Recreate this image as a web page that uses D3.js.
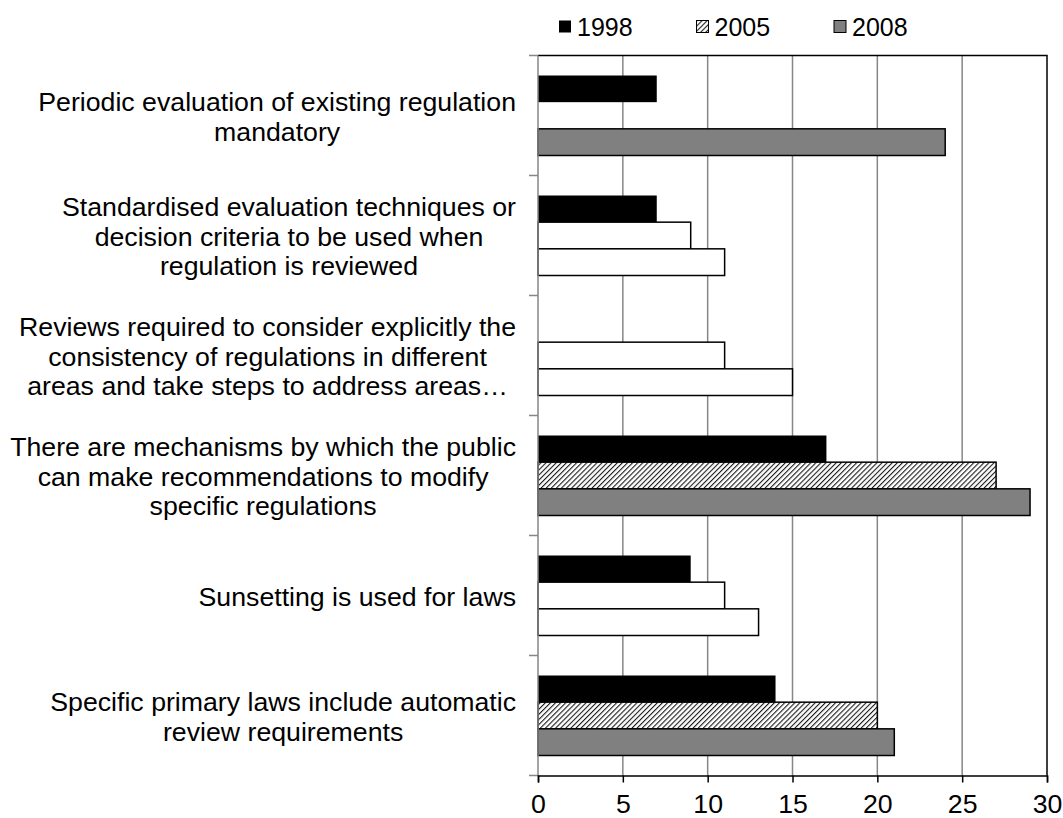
<!DOCTYPE html>
<html>
<head>
<meta charset="utf-8">
<script src="https://cdnjs.cloudflare.com/ajax/libs/d3/7.8.5/d3.min.js"></script>
<title>Regulatory review</title>
<style>
  body{ margin: 0; background-color: #fff; }
  text{ font-family: "Liberation Sans", Arial, sans-serif; fill: #000; }
</style>
</head>
<body>
<script>
// data
var categories = [
  "Periodic evaluation of existing regulation|mandatory",
  "Standardised evaluation techniques or|decision criteria to be used when|regulation is reviewed",
  "Reviews required to consider explicitly the|consistency of regulations in different|areas and take steps to address areas\u2026",
  "There are mechanisms by which the public|can make recommendations to modify|specific regulations",
  "Sunsetting is used for laws",
  "Specific primary laws include automatic|review requirements"
];
var series = ["1998", "2005", "2008"];
var v1998 = [7, 7, null, 17, 9, 14];
var v2005 = [null, 9, 11, 27, 11, 20];
var v2008 = [24, 11, 15, 29, 13, 21];
var xTicks = [0, 5, 10, 15, 20, 25, 30];

// groups where the 2005/2008 bars come out unfilled in the original
var hollowGroups = [1, 2, 4];

var W = 1063, H = 818,
    fs = 26.7,   // label font size
    fsLeg = 25;

var svg = d3.select("body").append("svg")
    .attr("width", W)
    .attr("height", H);

var defs = svg.append("defs");
var pat = defs.append("pattern")
    .attr("id", "hatch")
    .attr("patternUnits", "userSpaceOnUse")
    .attr("width", 3.6).attr("height", 3.6)
    .attr("patternTransform", "rotate(45)");
pat.append("rect").attr("width", 3.6).attr("height", 3.6).attr("fill", "#fff");
pat.append("line").attr("x1", 0).attr("y1", 0).attr("x2", 0).attr("y2", 3.6)
    .attr("stroke", "#1a1a1a").attr("stroke-width", 2.2);

var x = d3.scaleLinear().domain([0, 30]).range([538, 1047]);
var y = d3.scaleBand().domain(d3.range(categories.length)).range([55.5, 775.5]);
var ySub = d3.scaleBand().domain(series).range([20, y.bandwidth() - 20]);

var fills = { "1998": "#000", "2005": "url(#hatch)", "2008": "#808080" };

// gridlines
svg.append("g").selectAll("line")
  .data(xTicks.slice(1, -1))
  .enter().append("line")
    .attr("x1", function(d){ return x(d); })
    .attr("x2", function(d){ return x(d); })
    .attr("y1", 55.5).attr("y2", 775.5)
    .attr("stroke", "#868686").attr("stroke-width", 1.5);

// bars
var rows = [];
categories.forEach(function(c, i){
  [v1998, v2005, v2008].forEach(function(arr, j){
    if (arr[i] != null) rows.push({ i: i, s: series[j], v: arr[i] });
  });
});

svg.append("g").selectAll("rect")
  .data(rows)
  .enter().append("rect")
    .attr("x", x(0))
    .attr("y", function(d){ return y(d.i) + ySub(d.s); })
    .attr("width", function(d){ return x(d.v) - x(0); })
    .attr("height", ySub.bandwidth())
    .attr("fill", function(d){
      if (d.s != "1998" && hollowGroups.indexOf(d.i) >= 0) return "#fff";
      return fills[d.s];
    })
    .attr("stroke", function(d){ return d.s == "1998" ? "none" : "#000"; })
    .attr("stroke-width", 1.5);

// frame: top + right black
svg.append("path")
    .attr("d", "M" + x(0) + ",55.5H" + x(30) + "V775.5")
    .attr("fill", "none").attr("stroke", "#000").attr("stroke-width", 1.5);

// left axis (gray) with category separators
var bounds = y.domain().map(function(d){ return y(d); }).concat([775.5]);
svg.append("line")
    .attr("x1", x(0)).attr("x2", x(0)).attr("y1", 55.5).attr("y2", 775.5)
    .attr("stroke", "#868686").attr("stroke-width", 1.5);
svg.append("g").selectAll("line")
  .data(bounds)
  .enter().append("line")
    .attr("x1", x(0) - 9).attr("x2", x(0))
    .attr("y1", function(d){ return d; }).attr("y2", function(d){ return d; })
    .attr("stroke", "#868686").attr("stroke-width", 1.5);

// bottom axis
var xAxis = svg.append("g")
    .attr("transform", "translate(0,775.5)")
    .call(d3.axisBottom(x).tickValues(xTicks).tickSize(7).tickPadding(12));
xAxis.select(".domain").attr("stroke", "#000").attr("stroke-width", 1.5);
xAxis.selectAll(".tick line").attr("stroke", "#000").attr("stroke-width", 1.5);
xAxis.selectAll("text")
    .style("font-family", '"Liberation Sans", Arial, sans-serif')
    .style("font-size", fs + "px").attr("fill", "#000");

// category labels, centred block with right edge at 516
var lineH = 29.5;
categories.forEach(function(c, i){
  var lines = c.split("|");
  var g = svg.append("text")
      .attr("text-anchor", "middle")
      .style("font-size", fs + "px");
  var cy = y(i) + y.bandwidth() / 2 + 1;
  var top = cy - (lines.length - 1) * lineH / 2;
  var spans = g.selectAll("tspan")
    .data(lines)
    .enter().append("tspan")
      .attr("y", function(d, k){ return top + k * lineH + fs * 0.35; })
      .text(function(d){ return d; });
  var maxW = d3.max(spans.nodes(), function(n){ return n.getComputedTextLength(); });
  spans.attr("x", 516 - maxW / 2);
});

// legend
var leg = svg.append("g").selectAll("g")
  .data(series)
  .enter().append("g")
    .attr("transform", function(d, k){ return "translate(" + (559 + k * 137.5) + ",0)"; });
leg.append("rect")
    .attr("x", 0).attr("y", 20.5).attr("width", 12).attr("height", 12)
    .attr("fill", function(d){ return fills[d]; })
    .attr("stroke", function(d){ return d == "1998" ? "none" : "#000"; })
    .attr("stroke-width", 1);
leg.append("text")
    .attr("x", 18).attr("y", 35.5)
    .style("font-size", fsLeg + "px")
    .text(function(d){ return d; });
</script>
</body>
</html>
